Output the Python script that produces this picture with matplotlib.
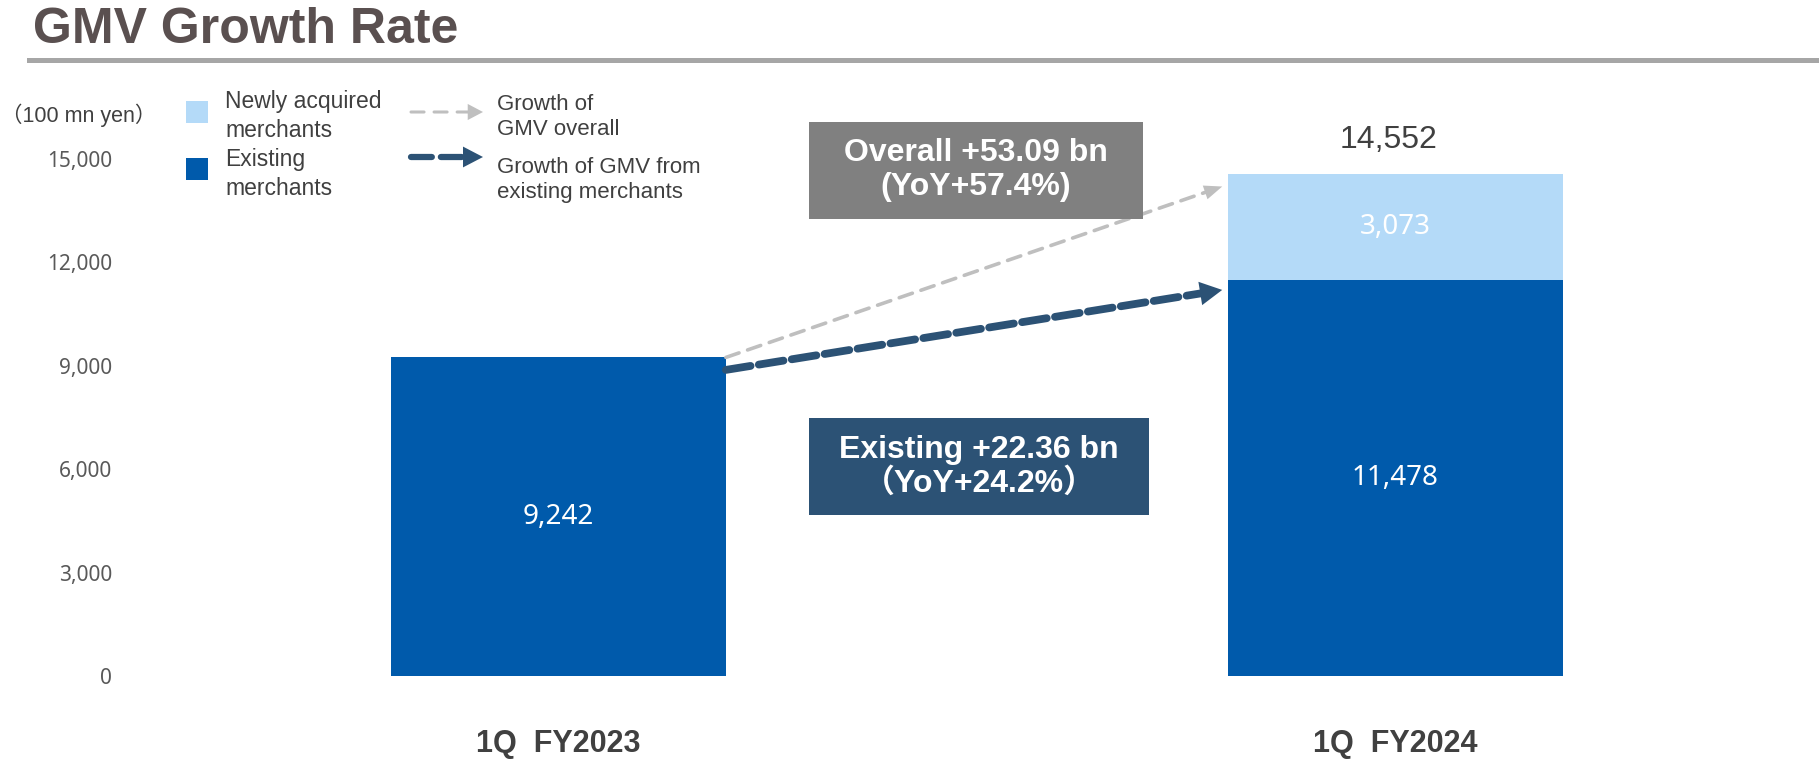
import matplotlib
matplotlib.use('Agg')
import matplotlib.pyplot as plt
from matplotlib.patches import Rectangle, FancyArrowPatch

plt.rcParams['lines.scale_dashes'] = False

# data (100 mn yen)
periods = ['1Q  FY2023', '1Q  FY2024']
existing = [9242, 11478]
newly_acquired = [0, 3073]
totals = [9242, 14552]
yticks = [0, 3000, 6000, 9000, 12000, 15000]
overall_growth = ('Overall +53.09 bn', '(YoY+57.4%)')
existing_growth = ('Existing +22.36 bn', '（YoY+24.2%）')

DARK_BLUE = '#005AAB'
LIGHT_BLUE = '#B4DAF8'
BOX_GRAY = '#808080'
NAVY = '#2C5275'
ARROW_GRAY = '#BFBFBF'
TEXT = '#404040'
TITLE = '#5A5050'
ARIAL = ['Liberation Sans', 'Noto Sans CJK JP']

W, H = 1819, 759
fig = plt.figure(figsize=(W / 100, H / 100), dpi=100)


def fx(px):
    return px / W


def fy(py):
    return 1 - py / H


def dashed_arrow(start, end, color, lw, dashes, head_len, head_w, transform, add):
    # dashed shaft ending at the head base, then a solid filled head
    shaft = FancyArrowPatch(start, end, arrowstyle='-', lw=lw, linestyle=(0, dashes),
                            color=color, shrinkA=0, shrinkB=head_len * 0.9,
                            mutation_scale=1, transform=transform)
    head = FancyArrowPatch(start, end,
                           arrowstyle=f'-|>,head_length={head_len},head_width={head_w}',
                           lw=0, color=color, shrinkA=0, shrinkB=0,
                           mutation_scale=1, transform=transform)
    add(shaft)
    add(head)


# title + rule
fig.text(fx(33), fy(43), 'GMV Growth Rate', fontsize=36, fontweight='bold',
         color=TITLE, family=ARIAL, va='baseline')
fig.add_artist(Rectangle((fx(27), fy(63)), 1 - fx(27), 5 / H,
                         transform=fig.transFigure, color='#A6A6A6', lw=0))

# axes
ax = fig.add_axes([fx(180), 83 / H, fx(W - 180), 586 / H])
x = [0, 1]
ax.bar(x, existing, width=0.4, color=DARK_BLUE, lw=0)
ax.bar(x, newly_acquired, width=0.4, bottom=existing, color=LIGHT_BLUE, lw=0)
ax.set_xlim(-0.4522, 1.506)
ax.set_ylim(0, 17000)
for s in ax.spines.values():
    s.set_visible(False)

ax.set_yticks(yticks, [f'{v:,}' for v in yticks], fontsize=15, color='#595959',
              family='Noto Sans')
ax.set_xticks(x, periods, fontsize=22, fontweight='bold', color=TEXT, family=ARIAL)
ax.tick_params(axis='y', length=0, pad=49)
ax.tick_params(axis='x', length=0, pad=38)

for i in x:
    ax.text(i, existing[i] / 2, f'{existing[i]:,}', ha='center', va='center',
            color='white', fontsize=20, family='Noto Sans')
    if newly_acquired[i]:
        ax.text(i, existing[i] + newly_acquired[i] / 2, f'{newly_acquired[i]:,}',
                ha='center', va='center', color='white', fontsize=20, family='Noto Sans')
        ax.annotate(f'{totals[i]:,}', xy=(i, totals[i]), xytext=(-5, 25),
                    textcoords='offset points', ha='center', va='center',
                    fontsize=23, color=TEXT, family=ARIAL)

# growth arrows between bars
dashed_arrow((0.2, totals[0]), (0.793, 14200), ARROW_GRAY, 2.6, (10, 6.5), 13, 5.2,
             ax.transData, ax.add_patch)
dashed_arrow((0.2, 8880), (0.793, 11200), NAVY, 5.6, (18, 6), 16, 8.5,
             ax.transData, ax.add_patch)

# callout boxes
fig.add_artist(Rectangle((fx(809), fy(219)), fx(334), 97 / H,
                         transform=fig.transFigure, color=BOX_GRAY, lw=0))
fig.text(fx(976), fy(170), '\n'.join(overall_growth), ha='center', va='center',
         multialignment='center', fontsize=23, fontweight='bold', color='white',
         family=ARIAL, linespacing=1.15)
fig.add_artist(Rectangle((fx(809), fy(515)), fx(340), 97 / H,
                         transform=fig.transFigure, color=NAVY, lw=0))
fig.text(fx(979), fy(467), '\n'.join(existing_growth), ha='center', va='center',
         multialignment='center', fontsize=23, fontweight='bold', color='white',
         family=ARIAL, linespacing=1.15)

# unit + legend
fig.text(fx(1), fy(115), '（100 mn yen）', va='center', fontsize=15.5,
         color=TEXT, family=ARIAL)
fig.add_artist(Rectangle((fx(186), fy(123)), fx(22), 22 / H,
                         transform=fig.transFigure, color=LIGHT_BLUE, lw=0))
fig.add_artist(Rectangle((fx(186), fy(180)), fx(22), 22 / H,
                         transform=fig.transFigure, color=DARK_BLUE, lw=0))
fig.text(fx(225), fy(116), 'Newly acquired\nmerchants', va='center', fontsize=16.5,
         color=TEXT, family=ARIAL, linespacing=1.3)
fig.text(fx(225), fy(174), 'Existing\nmerchants', va='center', fontsize=16.5,
         color=TEXT, family=ARIAL, linespacing=1.3)
dashed_arrow((fx(411), fy(112)), (fx(483), fy(112)), ARROW_GRAY, 2.2, (9.4, 7.2), 11, 5.8,
             fig.transFigure, fig.add_artist)
dashed_arrow((fx(411), fy(157)), (fx(483), fy(157)), NAVY, 4.5, (15, 6.5), 14.4, 7.5,
             fig.transFigure, fig.add_artist)
fig.text(fx(497), fy(117), 'Growth of\nGMV overall', va='center', fontsize=16,
         color=TEXT, family=ARIAL, linespacing=1.3)
fig.text(fx(497), fy(180), 'Growth of GMV from\nexisting merchants', va='center',
         fontsize=16, color=TEXT, family=ARIAL, linespacing=1.3)

fig.savefig('out.png', dpi=100)
